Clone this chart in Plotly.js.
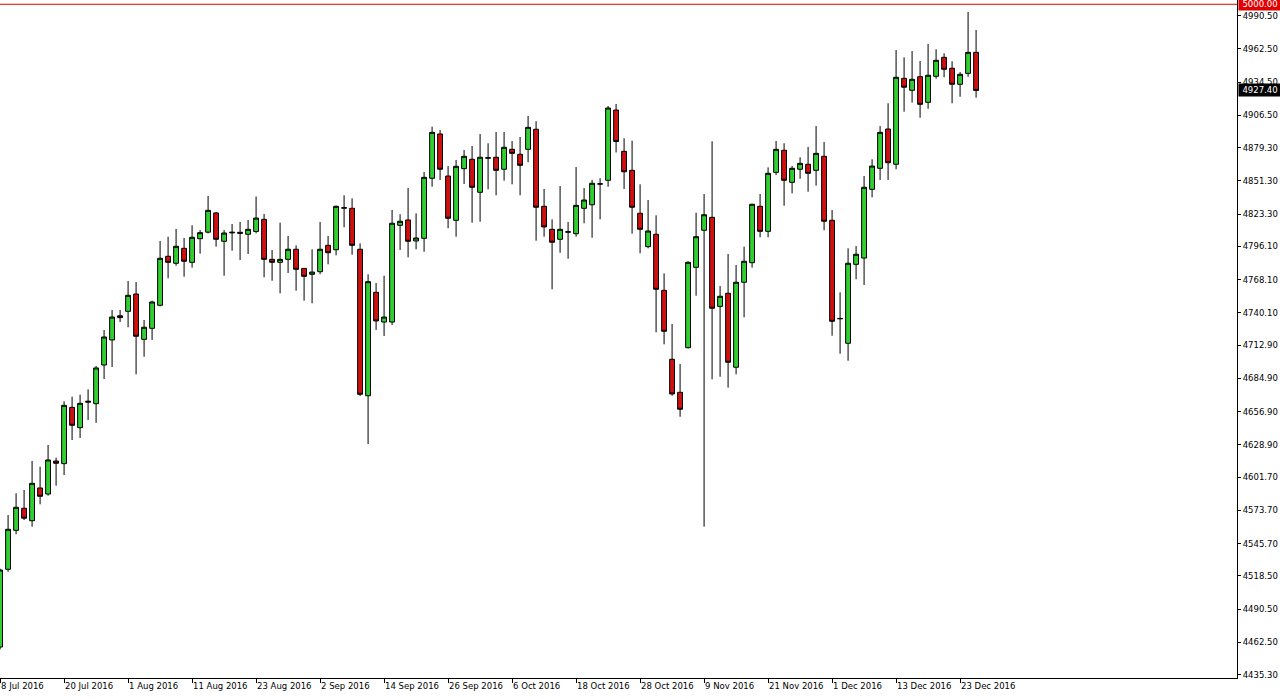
<!DOCTYPE html>
<html>
<head>
<meta charset="utf-8">
<script src="https://cdn.plot.ly/plotly-3.0.1.min.js"></script>
<style>
html,body{margin:0;padding:0;background:#fff;}
#chart{width:1280px;height:699px;}
</style>
</head>
<body>
<div id="chart"></div>
<script>
// Trading days (category x axis)
const dates = [
"2016-07-08","2016-07-11","2016-07-12","2016-07-13","2016-07-14","2016-07-15","2016-07-18","2016-07-19","2016-07-20","2016-07-21",
"2016-07-22","2016-07-25","2016-07-26","2016-07-27","2016-07-28","2016-07-29","2016-08-01","2016-08-02","2016-08-03","2016-08-04",
"2016-08-05","2016-08-08","2016-08-09","2016-08-10","2016-08-11","2016-08-12","2016-08-15","2016-08-16","2016-08-17","2016-08-18",
"2016-08-19","2016-08-22","2016-08-23","2016-08-24","2016-08-25","2016-08-26","2016-08-29","2016-08-30","2016-08-31","2016-09-01",
"2016-09-02","2016-09-05","2016-09-06","2016-09-07","2016-09-08","2016-09-09","2016-09-12","2016-09-13","2016-09-14","2016-09-15",
"2016-09-16","2016-09-19","2016-09-20","2016-09-21","2016-09-22","2016-09-23","2016-09-26","2016-09-27","2016-09-28","2016-09-29",
"2016-09-30","2016-10-03","2016-10-04","2016-10-05","2016-10-06","2016-10-07","2016-10-10","2016-10-11","2016-10-12","2016-10-13",
"2016-10-14","2016-10-17","2016-10-18","2016-10-19","2016-10-20","2016-10-21","2016-10-24","2016-10-25","2016-10-26","2016-10-27",
"2016-10-28","2016-10-31","2016-11-01","2016-11-02","2016-11-03","2016-11-04","2016-11-07","2016-11-08","2016-11-09","2016-11-10",
"2016-11-11","2016-11-14","2016-11-15","2016-11-16","2016-11-17","2016-11-18","2016-11-21","2016-11-22","2016-11-23","2016-11-24",
"2016-11-25","2016-11-28","2016-11-29","2016-11-30","2016-12-01","2016-12-02","2016-12-05","2016-12-06","2016-12-07","2016-12-08",
"2016-12-09","2016-12-12","2016-12-13","2016-12-14","2016-12-15","2016-12-16","2016-12-19","2016-12-20","2016-12-21","2016-12-22",
"2016-12-23","2016-12-26","2016-12-27"];

const openP = [
4458.5,4524.0,4556.8,4575.4,4564.9,4592.5,4587.4,4615.2,4613.0,4660.4,
4643.3,4664.7,4663.5,4696.1,4717.2,4737.6,4741.3,4755.9,4717.7,4727.0,
4746.4,4787.7,4781.8,4794.4,4782.6,4802.5,4808.0,4824.2,4800.3,4807.4,
4807.9,4806.2,4808.6,4818.8,4785.1,4782.6,4785.1,4793.6,4777.5,4772.5,
4774.7,4796.9,4793.2,4828.2,4828.1,4793.6,4670.2,4757.3,4732.3,4732.3,
4813.8,4818.3,4800.6,4802.8,4853.4,4890.7,4855.3,4818.0,4861.5,4869.4,
4841.6,4870.3,4871.1,4861.0,4877.8,4873.6,4877.8,4894.7,4829.8,4810.4,
4802.0,4808.0,4806.7,4828.1,4831.1,4848.5,4851.7,4910.9,4876.1,4860.1,
4823.9,4795.8,4806.2,4759.0,4700.9,4673.1,4710.7,4778.4,4809.6,4820.5,
4745.5,4756.5,4694.2,4765.8,4782.3,4829.8,4808.7,4858.4,4877.0,4850.0,
4861.0,4865.2,4860.1,4871.9,4818.0,4735.0,4714.4,4780.9,4786.2,4844.1,
4861.8,4894.9,4865.2,4937.6,4927.5,4939.0,4917.4,4939.3,4955.3,4946.1,
4932.6,4941.8,4959.5];

const highP = [
4524.5,4569.7,4588.0,4590.8,4615.2,4610.4,4628.7,4618.0,4665.5,4669.4,
4671.1,4675.6,4695.3,4725.6,4742.4,4742.4,4766.9,4766.0,4734.0,4750.3,
4800.6,4804.2,4810.7,4803.1,4813.8,4809.8,4838.5,4825.0,4809.8,4814.9,
4816.6,4818.3,4838.0,4823.3,4793.0,4816.0,4804.8,4796.9,4777.8,4793.6,
4816.6,4804.8,4830.5,4839.1,4836.5,4798.6,4772.5,4765.2,4771.3,4826.7,
4823.1,4845.2,4823.9,4858.7,4896.9,4894.1,4863.7,4868.8,4877.2,4880.6,
4890.7,4882.9,4892.4,4892.4,4884.8,4888.2,4905.9,4901.4,4844.4,4818.8,
4846.9,4816.6,4862.9,4845.2,4852.0,4853.4,4914.3,4916.0,4887.1,4885.1,
4848.3,4835.1,4822.2,4773.3,4730.6,4696.9,4783.5,4824.4,4840.2,4884.6,
4762.6,4789.6,4780.3,4795.8,4832.0,4840.2,4862.6,4884.8,4882.9,4863.7,
4871.1,4879.8,4897.4,4884.0,4826.7,4757.3,4794.4,4796.3,4855.3,4869.4,
4897.4,4916.6,4961.5,4955.3,4960.6,4952.2,4966.5,4962.1,4958.7,4952.0,
4943.0,4993.5,4978.3];

const lowP = [
4456.5,4522.0,4553.5,4565.5,4559.9,4578.7,4586.0,4594.4,4603.4,4632.9,
4634.6,4649.7,4647.4,4684.3,4694.4,4732.3,4727.9,4688.2,4703.1,4717.2,
4745.5,4769.1,4779.7,4770.5,4778.1,4789.9,4807.0,4795.8,4771.3,4792.4,
4784.6,4789.6,4807.0,4770.0,4767.1,4756.5,4773.6,4758.7,4750.3,4748.1,
4772.6,4780.9,4788.5,4812.1,4789.0,4670.0,4629.5,4725.6,4720.5,4729.8,
4793.0,4786.8,4793.6,4791.5,4846.3,4852.0,4811.3,4804.2,4848.6,4816.0,
4816.8,4844.1,4839.1,4851.4,4848.3,4839.1,4866.9,4800.8,4804.2,4759.9,
4790.7,4785.6,4804.2,4815.5,4803.3,4818.8,4846.3,4875.1,4844.4,4806.7,
4790.2,4794.4,4723.6,4713.5,4670.2,4652.5,4710.0,4754.5,4559.9,4684.0,
4686.2,4677.0,4688.2,4736.3,4778.1,4803.7,4803.7,4856.2,4830.3,4840.7,
4853.0,4842.1,4847.2,4809.6,4720.8,4705.6,4699.7,4768.3,4763.5,4837.4,
4852.0,4852.0,4861.0,4909.5,4917.1,4904.4,4912.0,4937.3,4938.5,4916.6,
4922.1,4939.0,4921.3];

const closeP = [
4523.4,4557.7,4576.2,4567.0,4596.4,4585.5,4616.1,4613.3,4662.1,4645.3,
4663.8,4665.5,4693.6,4719.7,4736.5,4736.0,4754.8,4720.3,4727.9,4749.2,
4786.0,4782.6,4796.1,4783.5,4803.7,4807.6,4826.4,4802.0,4807.3,4807.9,
4807.1,4810.4,4819.9,4785.1,4782.6,4785.1,4793.6,4776.7,4770.8,4774.4,
4793.6,4790.7,4829.8,4828.6,4796.9,4671.4,4766.3,4733.2,4736.5,4815.5,
4817.2,4800.3,4803.1,4854.2,4892.1,4861.0,4819.7,4863.5,4871.9,4845.8,
4871.1,4870.7,4860.1,4879.5,4874.4,4864.3,4896.3,4829.0,4812.4,4799.5,
4810.4,4808.3,4830.6,4835.1,4849.2,4848.7,4912.6,4884.4,4858.9,4829.0,
4810.4,4809.0,4759.9,4724.5,4671.7,4658.8,4782.6,4804.2,4822.7,4743.9,
4754.0,4698.4,4765.8,4783.5,4831.5,4808.7,4857.6,4877.8,4851.7,4861.8,
4866.0,4857.6,4874.4,4817.2,4732.9,4735.3,4781.8,4789.4,4845.8,4863.7,
4892.1,4866.5,4938.5,4930.1,4936.8,4915.7,4940.2,4952.8,4945.2,4932.6,
4941.0,4959.5,4927.4];

// Axis tick labels
const xTickDates = ["2016-07-08","2016-07-20","2016-08-01","2016-08-11","2016-08-23","2016-09-02","2016-09-14","2016-09-26",
  "2016-10-06","2016-10-18","2016-10-28","2016-11-09","2016-11-21","2016-12-01","2016-12-13","2016-12-23"];
const xTickLabels = ["8 Jul 2016","20 Jul 2016","1 Aug 2016","11 Aug 2016","23 Aug 2016","2 Sep 2016","14 Sep 2016","26 Sep 2016",
  "6 Oct 2016","18 Oct 2016","28 Oct 2016","9 Nov 2016","21 Nov 2016","1 Dec 2016","13 Dec 2016","23 Dec 2016"];
const yTickValues = [4435.30,4462.50,4490.50,4518.50,4545.70,4573.70,4601.70,4628.90,4656.90,4684.90,4712.90,
  4740.10,4768.10,4796.10,4823.30,4851.30,4879.30,4906.50,4934.50,4962.50,4990.50];
const levelLine = 5000.00;
const lastPrice = 4927.40;

const FONT = "DejaVu Sans, Tahoma, sans-serif";
const FS = 8.5;

const trace = {
  type: "candlestick",
  x: dates, open: openP, high: highP, low: lowP, close: closeP,
  increasing: {line: {color: "#000000", width: 1}, fillcolor: "#32CD32"},
  decreasing: {line: {color: "#000000", width: 1}, fillcolor: "#CC1111"},
  whiskerwidth: 0,
  hoverinfo: "x+y"
};

const layout = {
  width: 1280, height: 699,
  margin: {l: 0, r: 43, t: 0, b: 21, pad: 0},
  paper_bgcolor: "#ffffff", plot_bgcolor: "#ffffff",
  showlegend: false,
  boxgap: 0.22, boxgroupgap: 0.22,
  font: {family: FONT, size: FS, color: "#000"},
  xaxis: {
    type: "category",
    range: [-0.01, 154.615],
    rangeslider: {visible: false},
    showgrid: false, zeroline: false,
    showline: true, linecolor: "#000", linewidth: 1,
    ticks: "outside", ticklen: 4, tickcolor: "#000", tickwidth: 1,
    tickvals: xTickDates, ticktext: xTickLabels,
    tickangle: 0,
    ticklabelposition: "outside right",
    ticklabeloverflow: "allow",
    tickfont: {family: FONT, size: FS, color: "#000"}
  },
  yaxis: {
    side: "right",
    range: [4432.4, 5003.6],
    showgrid: false, zeroline: false,
    showline: true, linecolor: "#000", linewidth: 1,
    ticks: "outside", ticklen: 3, tickcolor: "#000", tickwidth: 1,
    tickvals: yTickValues,
    ticktext: yTickValues.map(v => v.toFixed(2)),
    tickfont: {family: FONT, size: FS, color: "#000"}
  },
  shapes: [{
    type: "line", xref: "paper", x0: 0, x1: 1, yref: "y", y0: levelLine, y1: levelLine,
    line: {color: "#E00000", width: 1}
  }],
  annotations: [
    {xref: "paper", x: 1, xanchor: "left", xshift: 1, yref: "y", y: levelLine, yanchor: "middle",
     text: levelLine.toFixed(2), showarrow: false, bgcolor: "#E00000", borderpad: 1,
     font: {family: FONT, size: FS, color: "#ffffff"}, width: 40},
    {xref: "paper", x: 1, xanchor: "left", xshift: 1, yref: "y", y: lastPrice, yanchor: "middle",
     text: lastPrice.toFixed(2), showarrow: false, bgcolor: "#000000", borderpad: 1,
     font: {family: FONT, size: FS, color: "#ffffff"}, width: 40}
  ]
};

Plotly.newPlot("chart", [trace], layout, {displayModeBar: false, staticPlot: true});
</script>
</body>
</html>
